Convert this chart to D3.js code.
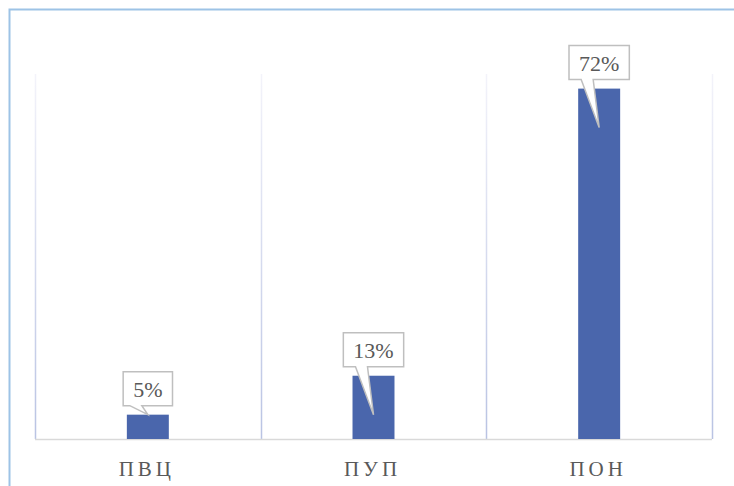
<!DOCTYPE html>
<html lang="ru">
<head>
  <meta charset="UTF-8">
  <title>ПВЦ ПУП ПОН</title>
  <style>
    body { margin: 0; background: #fff; }
    .serif { font-family: 'Liberation Serif', 'Times New Roman', Times, serif; }
  </style>
</head>
<body>
  <script src="https://cdn.jsdelivr.net/npm/d3@7"></script>
  <script>
    // данные
    let categories = ['ПВЦ', 'ПУП', 'ПОН'];
    let values = [5, 13, 72];
    let labels = ['5%', '13%', '72%'];

    let width = 734;
    let height = 486;
    let svg = d3.select('body')
                .append('svg')
                .attr('width', width)
                .attr('height', height);

    // рамка (видны только левая и верхняя стороны)
    svg.append('path')
       .attr('d', 'M9.5,486 V9.5 H734')
       .attr('fill', 'none')
       .attr('stroke', '#9dc3e6')
       .attr('stroke-width', 2);

    // шкалы
    let x = d3.scaleBand()
              .domain(categories)
              .range([35, 712]);
    let y = d3.scaleLinear()
              .domain([0, 75])
              .range([439, 74]);

    // градиент для вертикальной сетки
    let grad = svg.append('defs').append('linearGradient')
                  .attr('id', 'gridGrad')
                  .attr('gradientUnits', 'userSpaceOnUse')
                  .attr('x1', 0).attr('y1', y(75))
                  .attr('x2', 0).attr('y2', y(0));
    grad.append('stop').attr('offset', '0%').attr('stop-color', '#f3f3fa');
    grad.append('stop').attr('offset', '100%').attr('stop-color', '#b9c3e3');

    let gridX = categories.map(c => x(c)).concat([x.range()[1]]);
    svg.append('g')
       .selectAll('line')
       .data(gridX)
       .enter()
       .append('line')
       .attr('x1', d => Math.round(d) + 0.5)
       .attr('x2', d => Math.round(d) + 0.5)
       .attr('y1', y(75))
       .attr('y2', y(0))
       .attr('stroke', 'url(#gridGrad)')
       .attr('stroke-width', 1.5);

    // ось X
    svg.append('line')
       .attr('x1', x.range()[0])
       .attr('x2', x.range()[1])
       .attr('y1', y(0) + 0.5)
       .attr('y2', y(0) + 0.5)
       .attr('stroke', '#d9d9d9')
       .attr('stroke-width', 1.5);

    let barWidth = x.bandwidth() * 0.186;

    // столбцы
    svg.selectAll('rect.bar')
       .data(values)
       .enter()
       .append('rect')
       .attr('class', 'bar')
       .attr('x', (d, i) => x(categories[i]) + x.bandwidth() / 2 - barWidth / 2)
       .attr('y', d => y(d))
       .attr('width', barWidth)
       .attr('height', d => y(0) - y(d))
       .attr('fill', '#4a66ac');

    // подписи категорий
    svg.selectAll('text.cat')
       .data(categories)
       .enter()
       .append('text')
       .attr('class', 'cat serif')
       .attr('x', d => x(d) + x.bandwidth() / 2 - 1)
       .attr('y', 476)
       .attr('text-anchor', 'middle')
       .attr('font-size', 21)
       .attr('letter-spacing', 4)
       .attr('fill', '#595959')
       .text(d => d);

    // выноски с подписями данных
    let callouts = svg.selectAll('g.callout')
                      .data(values)
                      .enter()
                      .append('g')
                      .attr('class', 'callout');

    callouts.each(function(d, i) {
      let g = d3.select(this);
      let cx = x(categories[i]) + x.bandwidth() / 2;
      let top = y(d);
      let boxBottom = top - 9;
      let boxTop = boxBottom - 34;
      let txt = g.append('text')
                 .attr('class', 'serif')
                 .attr('x', cx)
                 .attr('y', boxBottom - 9)
                 .attr('text-anchor', 'middle')
                 .attr('font-size', 22)
                 .attr('fill', '#595959')
                 .text(labels[i]);
      let tw = txt.node().getComputedTextLength();
      let x0 = cx - tw / 2 - 10;
      let x1 = cx + tw / 2 + 10;
      let barH = y(0) - top;
      let tipY = barH > 40 ? top + 39 : top;
      let p = 'M' + x0 + ',' + boxTop + ' H' + x1 + ' V' + boxBottom +
              ' H' + (cx - 6) + ' L' + cx + ',' + tipY +
              ' L' + (cx - 18) + ',' + boxBottom + ' H' + x0 + ' Z';
      g.insert('path', 'text')
       .attr('d', p)
       .attr('fill', '#fff')
       .attr('stroke', '#bfbfbf')
       .attr('stroke-width', 1.5);
    });
  </script>
</body>
</html>
